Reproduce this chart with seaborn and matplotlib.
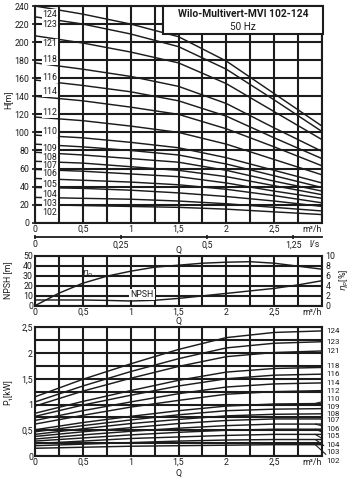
import numpy as np
import pandas as pd
import matplotlib
matplotlib.use("Agg")
import matplotlib.pyplot as plt
import seaborn as sns
from matplotlib.patches import Rectangle

# ---------------- data ----------------
Q = [0, 0.5, 1, 1.5, 2, 2.5, 3]
pumps = ['124', '123', '121', '118', '116', '114', '112', '110',
         '109', '108', '107', '106', '105', '104', '103', '102']

# head H [m]
H_124 = [240, 231, 220, 206, 179, 143, 107]
H_123 = [228, 220, 209, 195, 170, 136, 101]
H_121 = [207, 199, 189, 177, 154, 123, 92]
H_118 = [177, 170, 162, 151, 132, 105, 79]
H_116 = [158, 152, 145, 135, 118, 94, 71]
H_114 = [140, 135, 128, 120, 104, 84, 63]
H_112 = [117, 113, 107, 100, 87, 70, 53]
H_110 = [97, 94, 89, 83, 72, 58, 44]
H_109 = [87, 84, 80, 75, 65, 52, 39]
H_108 = [78, 75, 71, 67, 58, 46, 35]
H_107 = [68, 66, 62, 58, 51, 41, 31]
H_106 = [59, 57, 54, 51, 44, 35, 27]
H_105 = [49, 47, 45, 42, 37, 30, 22]
H_104 = [39, 38, 36, 33, 29, 24, 18]
H_103 = [28, 27, 26, 24, 21, 17, 13]
H_102 = [20, 19, 18, 17, 15, 12, 9]

# power P1 [kW]
P_124 = [1.15, 1.49, 1.79, 2.07, 2.30, 2.40, 2.43]
P_123 = [1.05, 1.36, 1.64, 1.89, 2.10, 2.19, 2.22]
P_121 = [0.97, 1.26, 1.51, 1.74, 1.93, 2.01, 2.04]
P_118 = [0.83, 1.06, 1.27, 1.47, 1.63, 1.70, 1.72]
P_116 = [0.77, 0.99, 1.18, 1.36, 1.50, 1.57, 1.59]
P_114 = [0.69, 0.88, 1.05, 1.21, 1.34, 1.40, 1.42]
P_112 = [0.62, 0.79, 0.95, 1.08, 1.20, 1.25, 1.27]
P_110 = [0.51, 0.65, 0.77, 0.88, 0.97, 1.01, 1.02]
P_109 = [0.47, 0.59, 0.70, 0.80, 0.88, 0.91, 0.92]
P_108 = [0.42, 0.53, 0.63, 0.71, 0.78, 0.81, 0.82]
P_107 = [0.38, 0.47, 0.55, 0.63, 0.69, 0.72, 0.72]
P_106 = [0.33, 0.41, 0.48, 0.54, 0.59, 0.62, 0.62]
P_105 = [0.29, 0.35, 0.41, 0.46, 0.50, 0.52, 0.52]
P_104 = [0.24, 0.29, 0.34, 0.37, 0.40, 0.42, 0.42]
P_103 = [0.20, 0.23, 0.26, 0.29, 0.31, 0.32, 0.32]
P_102 = [0.15, 0.17, 0.19, 0.20, 0.21, 0.22, 0.22]

# NPSH [m] and efficiency eta_p [%]
Q_fine = [0, 0.25, 0.5, 0.75, 1, 1.25, 1.5, 1.75, 2, 2.25, 2.5, 2.75, 3]
npsh = [5.7, 5.7, 5.7, 5.3, 4.7, 5.4, 7.3, 9.8, 12.3, 14.8, 17.3, 20.8, 25.0]
eta = [0, 2.5, 4.5, 5.9, 6.9, 7.7, 8.1, 8.5, 8.7, 8.8, 8.5, 7.9, 7.3]

q_tick_labels = ['0', '', '0,5', '', '1', '', '1,5', '', '2', '', '2,5', '', 'm³/h']
ls_ticks = [0, 0.25, 0.5, 0.75]
ls_tick_labels = ['0', '0,25', '0,5', '1,25']
title_1 = 'Wilo-Multivert-MVI 102-124'
title_2 = '50 Hz'

head_lists = [H_124, H_123, H_121, H_118, H_116, H_114, H_112, H_110,
              H_109, H_108, H_107, H_106, H_105, H_104, H_103, H_102]
power_lists = [P_124, P_123, P_121, P_118, P_116, P_114, P_112, P_110,
               P_109, P_108, P_107, P_106, P_105, P_104, P_103, P_102]

df_head = pd.concat([pd.DataFrame({'Q': Q, 'H': h, 'pump': p})
                     for p, h in zip(pumps, head_lists)], ignore_index=True)
df_pow = pd.concat([pd.DataFrame({'Q': Q, 'P': v, 'pump': p})
                    for p, v in zip(pumps, power_lists)], ignore_index=True)
df_npsh = pd.DataFrame({'Q': Q_fine, 'NPSH': npsh, 'eta': eta})

# label placement (layout)
head_label_y = [231, 219, 198, 181, 161, 145, 121.5, 101, 82, 72, 63, 54, 42, 31, 21.5, 11]
power_label_y = [2.43, 2.21, 2.04, 1.75, 1.59, 1.42, 1.26, 1.11, 0.96, 0.82,
                 0.69, 0.53, 0.38, 0.22, 0.08, -0.09]

# ---------------- style ----------------
sns.set_theme(style="white")
plt.rcParams['font.family'] = ['Roboto', 'DejaVu Sans']
plt.rcParams['mathtext.fontset'] = 'dejavusans'
FS = 6.3
INK = '#1c1c1c'
GRID_LW = 1.5
CURVE_LW = 1.05

W, HH = 356, 478
fig = plt.figure(figsize=(W / 100, HH / 100), dpi=100)
fig.patch.set_facecolor('white')


def rect(x0, y0, x1, y1):
    return [x0 / W, 1 - y1 / HH, (x1 - x0) / W, (y1 - y0) / HH]


def ftext(x, y, s, **kw):
    fig.text(x / W, 1 - y / HH, s, **kw)


def style_axes(ax):
    ax.set_facecolor('white')
    ax.set_axisbelow(True)
    ax.grid(True, color=INK, lw=GRID_LW)
    for sp in ax.spines.values():
        sp.set_visible(True)
        sp.set_color(INK)
        sp.set_linewidth(GRID_LW)
    ax.set_xlim(0, 3)
    ax.set_xticks(np.arange(0, 3.01, 0.25))
    ax.set_xticklabels(q_tick_labels)
    labs = ax.get_xticklabels()
    labs[-1].set_ha('right')
    ax.tick_params(axis='x', length=0, pad=1.5, labelsize=FS, colors=INK)
    ax.tick_params(axis='y', length=2.5, width=1.2, pad=1.5, labelsize=FS,
                   colors=INK, left=True)
    ax.set_xlabel('')
    ax.set_ylabel('')


ax1 = fig.add_axes(rect(35, 6, 322, 222.7))
ax2 = fig.add_axes(rect(35, 255.7, 322, 305.7))
ax3 = fig.add_axes(rect(35, 327.3, 322, 456))

# ---------------- head chart ----------------
sns.lineplot(data=df_head, x='Q', y='H', units='pump', estimator=None,
             color=INK, lw=CURVE_LW, ax=ax1, sort=False, legend=False)
style_axes(ax1)
ax1.set_ylim(0, 240)
ax1.set_yticks(np.arange(0, 241, 20))
ax1.set_yticklabels([str(v) for v in range(0, 241, 20)])
for p, y in zip(pumps, head_label_y):
    ax1.text(0.155, y, p, ha='center', va='center', fontsize=FS, color=INK,
             zorder=6, bbox=dict(facecolor='white', edgecolor='none', pad=0.6))

ax1.add_patch(Rectangle((0.446, 0.871), 0.556, 0.131, transform=ax1.transAxes,
                        facecolor='white', edgecolor=INK, lw=GRID_LW, zorder=7,
                        clip_on=False))
ax1.text(0.724, 0.962, title_1, transform=ax1.transAxes, ha='center', va='center',
         fontsize=7.4, fontweight='bold', color=INK, zorder=8)
ax1.text(0.724, 0.905, title_2, transform=ax1.transAxes, ha='center', va='center',
         fontsize=7.2, color=INK, zorder=8)

sec = ax1.secondary_xaxis(-0.066, functions=(lambda q: np.asarray(q) / 3.6,
                                               lambda l: np.asarray(l) * 3.6))
sec.set_xticks(ls_ticks)
sec.set_xticklabels(ls_tick_labels)
sec.spines['bottom'].set_linewidth(1.3)
sec.spines['bottom'].set_color(INK)
sec.tick_params(axis='x', length=3, width=1.2, direction='inout', pad=1.0,
                labelsize=FS, colors=INK)
ftext(320, 244.5, 'l/s', ha='right', va='center', fontsize=FS, color=INK)
ftext(178, 250, 'Q', ha='center', va='center', fontsize=FS, color=INK)
ftext(8, 100, 'H[m]', ha='center', va='center', rotation=90, fontsize=FS, color=INK)

# ---------------- NPSH / efficiency chart ----------------
sns.lineplot(data=df_npsh, x='Q', y='NPSH', color=INK, lw=CURVE_LW, ax=ax2,
             sort=False, legend=False)
style_axes(ax2)
ax2.set_ylim(0, 50)
ax2.set_yticks(np.arange(0, 51, 10))
ax2.set_yticklabels([str(v) for v in range(0, 51, 10)])
ax2.tick_params(axis='y', length=0)
ax2b = ax2.twinx()
sns.lineplot(data=df_npsh, x='Q', y='eta', color=INK, lw=CURVE_LW, ax=ax2b,
             sort=False, legend=False)
ax2b.set_ylim(0, 10)
ax2b.set_yticks(np.arange(0, 11, 2))
ax2b.set_yticklabels([str(v) for v in range(0, 11, 2)])
ax2b.tick_params(axis='y', length=0, pad=2.5, labelsize=FS, colors=INK)
ax2b.set_ylabel('')
ax2b.grid(False)
for sp in ax2b.spines.values():
    sp.set_visible(False)
ax2.text(1.12, 11.3, 'NPSH', ha='center', va='center', fontsize=FS, color=INK,
         zorder=6, bbox=dict(facecolor='white', edgecolor='none', pad=0.8))
ax2.text(0.55, 31, r'$\eta_p$', ha='center', va='center', fontsize=FS, color=INK,
         zorder=6)
ftext(178, 321.5, 'Q', ha='center', va='center', fontsize=FS, color=INK)
ftext(8, 280, 'NPSH [m]', ha='center', va='center', rotation=90, fontsize=FS,
      color=INK)
ftext(344, 280, r'$\eta_p$[%]', ha='center', va='center', rotation=90,
      fontsize=FS, color=INK)

# ---------------- power chart ----------------
sns.lineplot(data=df_pow, x='Q', y='P', units='pump', estimator=None,
             color=INK, lw=CURVE_LW, ax=ax3, sort=False, legend=False)
style_axes(ax3)
ax3.set_ylim(0, 2.5)
ax3.set_yticks(np.arange(0, 2.51, 0.25))
ax3.set_yticklabels(['0', '', '0,5', '', '1', '', '1,5', '', '2', '', '2,5'])
ax3.tick_params(axis='y', length=0)
PFS = 5.7
for p, y, vals in zip(pumps, power_label_y, power_lists):
    if abs(y - vals[-1]) < 0.06:
        ax3.text(3.04, y, p, ha='left', va='center', fontsize=PFS, color=INK,
                 clip_on=False)
    else:
        ax3.annotate(p, xy=(2.93, vals[-1]), xytext=(3.04, y), textcoords='data',
                     ha='left', va='center', fontsize=PFS, color=INK,
                     annotation_clip=False,
                     arrowprops=dict(arrowstyle='-', lw=0.8, color=INK,
                                     shrinkA=0, shrinkB=0))
ftext(178, 473, 'Q', ha='center', va='center', fontsize=FS, color=INK)
ftext(8, 392, 'P₁[kW]', ha='center', va='center', rotation=90, fontsize=FS,
      color=INK)

fig.savefig('out.png', dpi=100, facecolor='white')
